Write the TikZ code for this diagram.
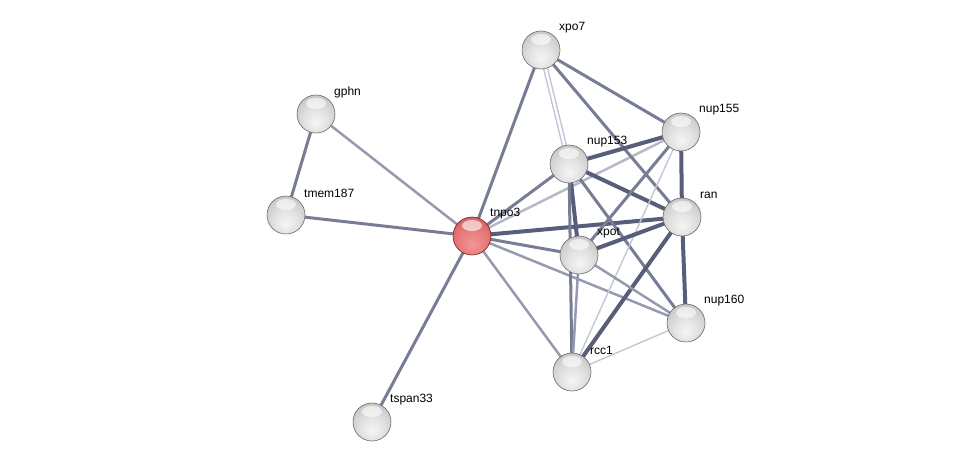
\documentclass[tikz,border=0pt]{standalone}
\usepackage{fontspec}
\setmainfont{Liberation Sans}
\usetikzlibrary{calc,backgrounds}
\definecolor{edgeD}{RGB}{88,93,122}
\definecolor{edgeM}{RGB}{120,125,150}
\definecolor{edgeL}{RGB}{150,154,175}
\definecolor{edgeVL}{RGB}{195,198,212}
\definecolor{r0}{RGB}{242,150,150}
\definecolor{r1}{RGB}{230,120,120}
\definecolor{r2}{RGB}{205,88,88}
\definecolor{r3}{RGB}{175,58,58}
\definecolor{r4}{RGB}{145,40,40}
\definecolor{ballline}{RGB}{105,105,105}
\definecolor{redline}{RGB}{115,30,30}
\pgfdeclareradialshading{sphW}{\pgfpoint{0bp}{-12bp}}{%
  color(0bp)=(black!4); color(15bp)=(black!11); color(30bp)=(black!21); color(45bp)=(black!34); color(55bp)=(black!44); color(62bp)=(black!52)}
\pgfdeclareradialshading{sphR}{\pgfpoint{0bp}{-12bp}}{%
  color(0bp)=(r0); color(20bp)=(r1); color(38bp)=(r2); color(52bp)=(r3); color(62bp)=(r4)}
\tikzset{
  prot/.style={circle, minimum size=38pt, inner sep=0pt, shading=sphW, draw=ballline, line width=0.6pt,
    path picture={\fill[white, opacity=0.6] ($(path picture bounding box.center)+(0,-10.5)$) ellipse (10pt and 5.5pt);}},
  query/.style={prot, shading=sphR, draw=redline},
  lbl/.style={anchor=west, inner sep=0pt, font=\fontsize{12}{12}\selectfont},
  eD/.style={draw=edgeD, line width=4pt},
  eM/.style={draw=edgeM, line width=3pt},
  eL/.style={draw=edgeL, line width=2.5pt},
  eVL/.style={draw=edgeVL, line width=1.4pt},
}
\begin{document}
\begin{tikzpicture}[x=1pt,y=-1pt]
\useasboundingbox (0,0) rectangle (976,466);
\node[prot] (xpo7) at (541,50) {};
\node[prot] (gphn) at (316,114) {};
\node[prot] (tmem187) at (286,215) {};
\node[query] (tnpo3) at (472,236) {};
\node[prot] (nup155) at (681,132) {};
\node[prot] (nup153) at (569,164) {};
\node[prot] (ran) at (682,217) {};
\node[prot] (xpot) at (579,255) {};
\node[prot] (nup160) at (686,323) {};
\node[prot] (rcc1) at (572,372) {};
\node[prot] (tspan33) at (372,422) {};
\foreach \n in {xpo7,gphn,tmem187,tnpo3,nup155,nup153,ran,xpot,nup160,rcc1,tspan33}{
  \node[lbl] (l-\n) at ($(\n)+(18,-22)$) {\n};
}
\begin{scope}[on background layer]
\path[eM] (gphn.center) -- (tmem187.center);
\path[eL] (gphn.center) -- (tnpo3.center);
\path[eM] (tmem187.center) -- (tnpo3.center);
\path[eM] (tnpo3.center) -- (tspan33.center);
\path[eM] (tnpo3.center) -- (xpo7.center);
\path[eM] (tnpo3.center) -- (nup153.center);
\path[eL, draw=edgeL!70] (tnpo3.center) -- (nup155.center);
\path[eD] (tnpo3.center) -- (ran.center);
\path[eM] (tnpo3.center) -- (xpot.center);
\path[eL] (tnpo3.center) -- (nup160.center);
\path[eL] (tnpo3.center) -- (rcc1.center);
\path[eVL] ($(xpo7.center)+(-2,0)$) -- ($(nup153.center)+(-2,0)$);
\path[eVL] ($(xpo7.center)+(2,0)$) -- ($(nup153.center)+(2,0)$);
\path[eM] (xpo7.center) -- (nup155.center);
\path[eM] (xpo7.center) -- (ran.center);
\path[eD] (nup153.center) -- (nup155.center);
\path[eD] (nup153.center) -- (ran.center);
\path[eD] (nup153.center) -- (xpot.center);
\path[eM] (nup153.center) -- (rcc1.center);
\path[eM] (nup153.center) -- (nup160.center);
\path[eD] (nup155.center) -- (ran.center);
\path[eM] (nup155.center) -- (xpot.center);
\path[eVL] (nup155.center) -- (rcc1.center);
\path[eD] (ran.center) -- (xpot.center);
\path[eD] (ran.center) -- (nup160.center);
\path[eD] (ran.center) -- (rcc1.center);
\path[eL] (xpot.center) -- (nup160.center);
\path[eL] (xpot.center) -- (rcc1.center);
\path[eVL] (nup160.center) -- (rcc1.center);
\end{scope}
\end{tikzpicture}
\end{document}
